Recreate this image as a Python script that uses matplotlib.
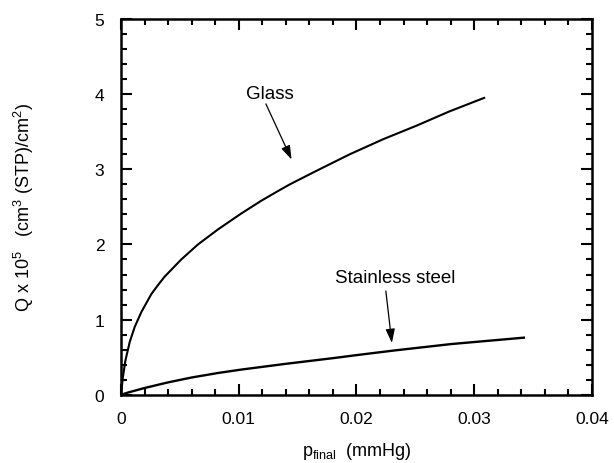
import matplotlib.pyplot as plt
from matplotlib.ticker import MultipleLocator

plt.rcParams['font.family'] = ['Liberation Sans', 'DejaVu Sans']

# Adsorbed quantity vs final pressure for two wall materials
p_glass = [0, 0.00017, 0.00037, 0.00074, 0.00116, 0.00173, 0.00258, 0.0031,
           0.0037, 0.00512, 0.00654, 0.00824, 0.0102, 0.0119, 0.01333, 0.01435,
           0.01661, 0.01944, 0.02227, 0.0251, 0.0279, 0.03085]
q_glass = [0, 0.24, 0.45, 0.70, 0.90, 1.10, 1.34, 1.45,
           1.57, 1.80, 2.00, 2.20, 2.41, 2.58, 2.71, 2.80,
           2.98, 3.2, 3.40, 3.58, 3.77, 3.95]

p_steel = [0, 0.0006, 0.002, 0.004, 0.006, 0.00824, 0.0102, 0.0139,
           0.01814, 0.02012, 0.02324, 0.02805, 0.03422]
q_steel = [0, 0.03, 0.09, 0.165, 0.23, 0.29, 0.335, 0.41,
           0.49, 0.53, 0.59, 0.675, 0.76]

x_ticks = [0, 0.01, 0.02, 0.03, 0.04]
x_labels = ['0', '0.01', '0.02', '0.03', '0.04']

fig = plt.figure(figsize=(6.14, 4.64), dpi=100)
ax = fig.add_axes([0.197, 0.147, 0.767, 0.81])

ax.plot(p_glass, q_glass, color='black', lw=1.5)
ax.plot(p_steel, q_steel, color='black', lw=1.7)

ax.set_xlim(0, 0.04)
ax.set_ylim(0, 5)
ax.set_xticks(x_ticks)
ax.set_xticklabels(x_labels)
ax.xaxis.set_minor_locator(MultipleLocator(0.002))
ax.yaxis.set_major_locator(MultipleLocator(1))
ax.yaxis.set_minor_locator(MultipleLocator(0.2))

ax.tick_params(which='both', direction='in', top=True, right=True,
               width=1.5, labelsize=12.5)
ax.tick_params(which='major', length=8, pad=12)
ax.tick_params(which='minor', length=4.3)
for s in ax.spines.values():
    s.set_linewidth(1.8)

ax.set_xlabel(r'p$_{\mathregular{final}}$  (mmHg)', fontsize=13, labelpad=10)
ax.set_ylabel(r'Q x 10$^{\mathregular{5}}$   (cm$^{\mathregular{3}}$ (STP)/cm$^{\mathregular{2}}$)',
              fontsize=13, labelpad=42)

arrow = dict(arrowstyle='-|>,head_length=0.6,head_width=0.2', color='black',
             lw=0.9, mutation_scale=14, shrinkA=0, shrinkB=0)
ax.annotate('', xy=(0.01449, 3.13), xytext=(0.01231, 3.87), arrowprops=arrow)
ax.text(0.01265, 4.01, 'Glass', ha='center', va='center', fontsize=13.5)
ax.annotate('', xy=(0.02301, 0.69), xytext=(0.0225, 1.38), arrowprops=arrow)
ax.text(0.02332, 1.56, 'Stainless steel', ha='center', va='center', fontsize=13.5)

fig.savefig('out.png', dpi=100)
